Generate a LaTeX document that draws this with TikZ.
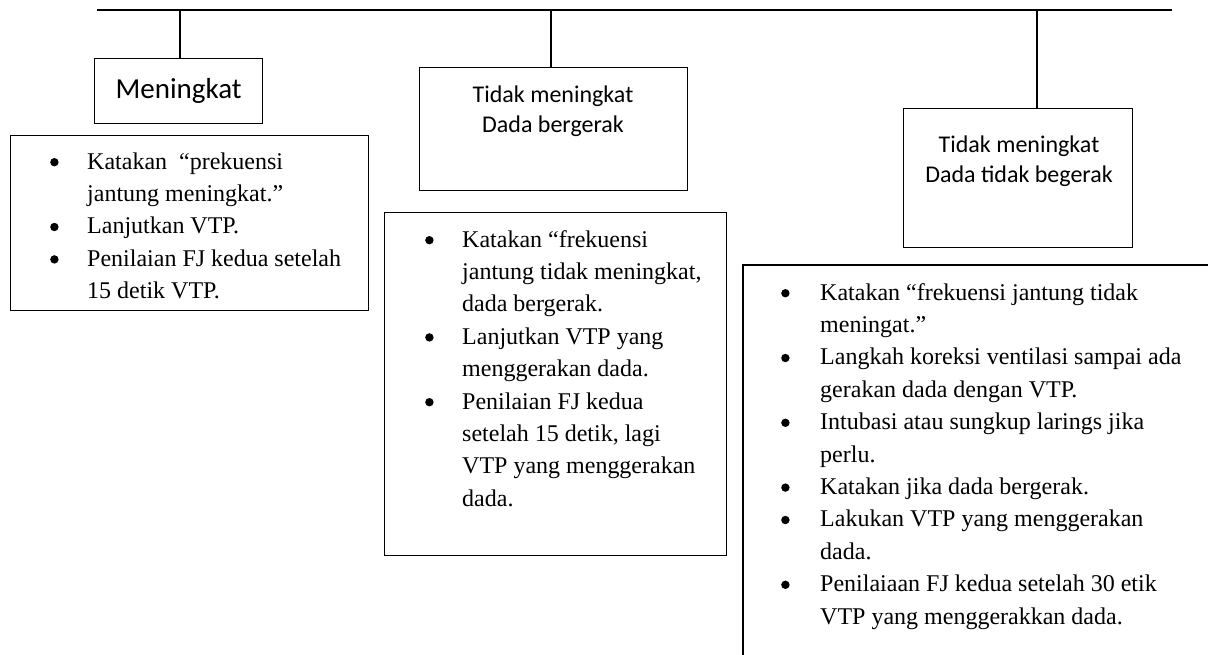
\documentclass[tikz,border=0pt]{standalone}
\usepackage{fontspec}
\setmainfont{Liberation Serif}
\newfontfamily\hdrfont{Carlito}
\usetikzlibrary{positioning}
\tikzset{
x=1pt, y=-1pt, % picture measured in pixels, y downwards
every path/.style={line width=1.3pt},
box/.style={draw, inner sep=0pt, anchor=north west}, % plain framed rectangle
hdr/.style={font=\hdrfont\fontsize{24}{30}\selectfont, inner sep=0pt, anchor=base},
list/.style={font=\fontsize{24}{32.4}\selectfont, inner sep=0pt, anchor=base west},
}
% round bullet as in the word processor
\newcommand{\blt}{\tikz[baseline=0pt, x=1pt, y=1pt]\fill (4.8,6.8) circle (4.2);}
% bullet list laid out line by line
\newcommand{\itemlist}[2]{\begin{tabular}[t]{@{}p{#1}@{}l@{}}#2\end{tabular}}

\begin{document}
\begin{tikzpicture}
                \useasboundingbox (0,0) rectangle (1208,654);
                % the bus line and where the branches leave it
                \coordinate (bl) at (97,10);
                \coordinate (br) at (1172,10);
                \coordinate (t1) at (180,10);
                \coordinate (t2) at (551,10);
                \coordinate (t3) at (1037,10);
                % headers
                \node[box, minimum width=168pt, minimum height=65pt] (h1) at (94,58) {};
                \node[box, minimum width=268pt, minimum height=123pt] (h2) at (419,67) {};
                \node[box, minimum width=229pt, minimum height=139pt] (h3) at (903,108) {};
                \node[hdr, font=\hdrfont\fontsize{29}{30}\selectfont, anchor=center] (l1) at (h1.center) {Meningkat};
                \node[hdr] (l2) at (553,102) {\begin{tabular}[t]{@{}c@{}}Tidak meningkat\\Dada bergerak\end{tabular}};
                \node[hdr] (l3) at (1019,152) {\begin{tabular}[t]{@{}c@{}}Tidak meningkat\\Dada tidak begerak\end{tabular}};
                % text boxes
                \node[box, minimum width=358pt, minimum height=175pt] (b1) at (10,135) {};
                \node[box, minimum width=342pt, minimum height=343pt] (b2) at (384,212) {};
                \coordinate (b3) at (743,265);
                \draw (b3 -| 1210,0) -- (b3) -- (b3 |- 0,660);
                \node[list] (p1) at (50,169) {\itemlist{37pt}{
                    \blt & Katakan \ “prekuensi\\
                    & jantung meningkat.”\\
                    \blt & Lanjutkan VTP.\\
                    \blt & Penilaian FJ kedua setelah\\
                    & 15 detik VTP.}};
                \node[list] (p2) at (425,247) {\itemlist{37pt}{
                    \blt & Katakan “frekuensi\\
                    & jantung tidak meningkat,\\
                    & dada bergerak.\\
                    \blt & Lanjutkan VTP yang\\
                    & menggerakan dada.\\
                    \blt & Penilaian FJ kedua\\
                    & setelah 15 detik, lagi\\
                    & VTP yang menggerakan\\
                    & dada.}};
                \node[list] (p3) at (781,300) {\itemlist{39pt}{
                    \blt & Katakan “frekuensi jantung tidak\\
                    & meningat.”\\
                    \blt & Langkah koreksi ventilasi sampai ada\\
                    & gerakan dada dengan VTP.\\
                    \blt & Intubasi atau sungkup larings jika\\
                    & perlu.\\
                    \blt & Katakan jika dada bergerak.\\
                    \blt & Lakukan VTP yang menggerakan\\
                    & dada.\\
                    \blt & Penilaiaan FJ kedua setelah 30 etik\\
                    & VTP yang menggerakkan dada.}};
                % branches
                \draw (bl) -- (br);
                \draw
                    (t1) -- (t1 |- h1.north)
                    (t2) -- (t2 |- h2.north)
                    (t3) -- (t3 |- h3.north)
                    ;
                \end{tikzpicture}
\end{document}
